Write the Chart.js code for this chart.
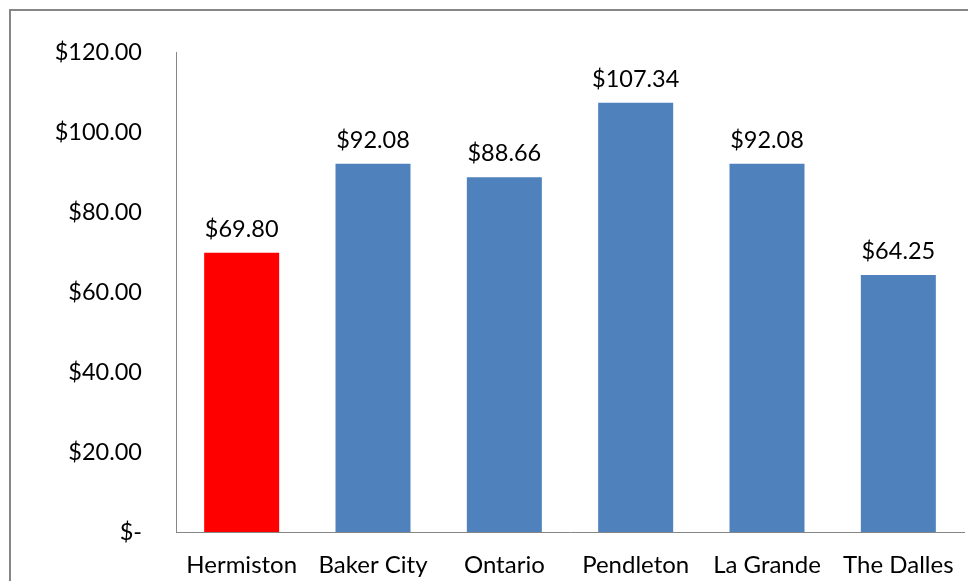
<!DOCTYPE html>
<html>
<head>
<meta charset="utf-8">
<script src="https://cdn.jsdelivr.net/npm/chart.js@4/dist/chart.umd.min.js"></script>
<style>
  html, body { margin: 0; padding: 0; background: #fff; }
  #wrap { position: relative; width: 968px; height: 581px; overflow: hidden; background: #fff; }
  #frame { position: absolute; left: 9px; top: 9px; width: 1200px; height: 1200px;
           border-left: 2px solid #878787; border-top: 2px solid #878787; box-sizing: border-box; }
  canvas { position: absolute; left: 0; top: 0; }
</style>
</head>
<body>
<div id="wrap">
  <div id="frame"></div>
  <canvas id="c" width="968" height="581"></canvas>
</div>
<script>
const categories = ['Hermiston', 'Baker City', 'Ontario', 'Pendleton', 'La Grande', 'The Dalles'];
const values = [69.80, 92.08, 88.66, 107.34, 92.08, 64.25];
const barColors = ['#FF0000', '#4F81BD', '#4F81BD', '#4F81BD', '#4F81BD', '#4F81BD'];
const yTickLabels = ['$-', '$20.00', '$40.00', '$60.00', '$80.00', '$100.00', '$120.00'];
const valueLabels = ['$69.80', '$92.08', '$88.66', '$107.34', '$92.08', '$64.25'];

const FONT = 'Lato, "Open Sans", sans-serif';

const labelPlugin = {
  id: 'valueLabels',
  afterDatasetsDraw(chart) {
    const ctx = chart.ctx;
    const meta = chart.getDatasetMeta(0);
    ctx.save();
    ctx.font = '23.5px ' + FONT;
    ctx.fillStyle = '#000';
    ctx.textAlign = 'center';
    ctx.textBaseline = 'alphabetic';
    meta.data.forEach((bar, i) => {
      ctx.fillText(valueLabels[i], bar.x, bar.y - 16);
    });
    ctx.restore();
  }
};

new Chart(document.getElementById('c'), {
  type: 'bar',
  data: {
    labels: categories,
    datasets: [{
      data: values,
      backgroundColor: barColors,
      borderWidth: 0,
      barPercentage: 0.571,
      categoryPercentage: 1.0
    }]
  },
  options: {
    responsive: false,
    animation: false,
    devicePixelRatio: 1,
    layout: { padding: { left: 0, right: 4, top: 52, bottom: 0 } },
    plugins: { legend: { display: false }, tooltip: { enabled: false } },
    scales: {
      x: {
        grid: { display: false, drawTicks: false },
        border: { display: true, color: '#868686', width: 1 },
        ticks: { color: '#000', font: { family: FONT, size: 24 }, padding: 19, maxRotation: 0, autoSkip: false },
        afterFit(scale) { scale.height = 49; scale.paddingLeft = 0; scale.paddingRight = 0; }
      },
      y: {
        min: 0, max: 120,
        grid: { display: false, drawTicks: false },
        border: { display: true, color: '#868686', width: 1 },
        ticks: {
          stepSize: 20,
          color: '#000',
          font: { family: FONT, size: 23.5 },
          padding: 34,
          callback: (v, i) => yTickLabels[i]
        },
        afterFit(scale) { scale.width = 176; scale.paddingTop = 0; scale.paddingBottom = 0; }
      }
    }
  },
  plugins: [labelPlugin]
});
</script>
</body>
</html>
